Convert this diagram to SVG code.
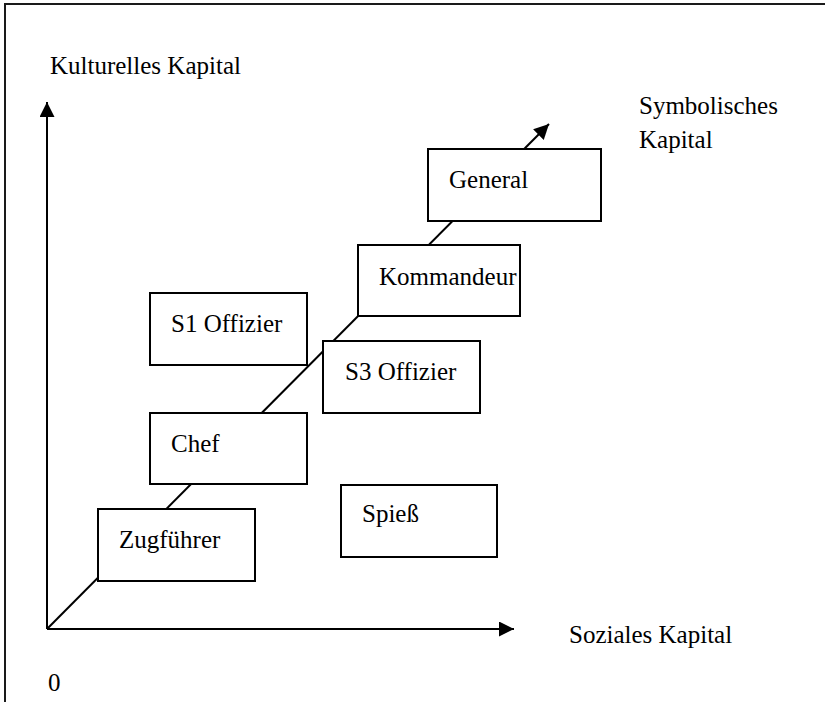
<svg xmlns="http://www.w3.org/2000/svg" width="825" height="702" viewBox="0 0 825 702">
  <style>
    .box { fill: #ffffff; stroke: #000000; stroke-width: 2; }
    .lbl { font-family: "Liberation Serif", "Times New Roman", serif; font-size: 25px; fill: #000000; }
    .axis { stroke: #000000; stroke-width: 2; fill: none; }
    .frame { stroke: #1a1a1a; stroke-width: 2; fill: none; }
  </style>
  <defs>
    <marker id="arrow" markerUnits="userSpaceOnUse" markerWidth="16" markerHeight="16" refX="15" refY="7.5" orient="auto">
      <path d="M0,0 L15,7.5 L0,15 Z" fill="#000000"/>
    </marker>
  </defs>
  <rect width="825" height="702" fill="#ffffff"/>
  <g id="frame">
    <path class="frame" d="M5,702 L5,4 L825,4"/>
  </g>
  <g id="connectors">
    <line class="axis" x1="47" y1="629" x2="47" y2="102" marker-end="url(#arrow)"/>
    <line class="axis" x1="47" y1="629" x2="514" y2="629" marker-end="url(#arrow)"/>
    <line class="axis" x1="47" y1="629" x2="549" y2="124" marker-end="url(#arrow)"/>
  </g>
  <g id="axis-labels">
    <text class="lbl" x="50" y="74">Kulturelles Kapital</text>
    <text class="lbl" x="639" y="114">Symbolisches</text>
    <text class="lbl" x="639" y="148">Kapital</text>
    <text class="lbl" x="569" y="643">Soziales Kapital</text>
    <text class="lbl" x="48" y="691">0</text>
  </g>
  <g id="general">
    <rect class="box" x="428" y="149" width="173" height="72"/>
    <text class="lbl" x="449" y="188">General</text>
  </g>
  <g id="kommandeur">
    <rect class="box" x="358" y="245" width="162" height="71"/>
    <text class="lbl" x="379" y="285">Kommandeur</text>
  </g>
  <g id="s1-offizier">
    <rect class="box" x="150" y="293" width="157" height="72"/>
    <text class="lbl" x="171" y="332">S1 Offizier</text>
  </g>
  <g id="s3-offizier">
    <rect class="box" x="323" y="341" width="157" height="72"/>
    <text class="lbl" x="345" y="380">S3 Offizier</text>
  </g>
  <g id="chef">
    <rect class="box" x="150" y="413" width="157" height="71"/>
    <text class="lbl" x="171" y="452">Chef</text>
  </g>
  <g id="spiess">
    <rect class="box" x="341" y="485" width="156" height="72"/>
    <text class="lbl" x="362" y="522">Spieß</text>
  </g>
  <g id="zugfuehrer">
    <rect class="box" x="98" y="509" width="157" height="72"/>
    <text class="lbl" x="119" y="548">Zugführer</text>
  </g>
</svg>
